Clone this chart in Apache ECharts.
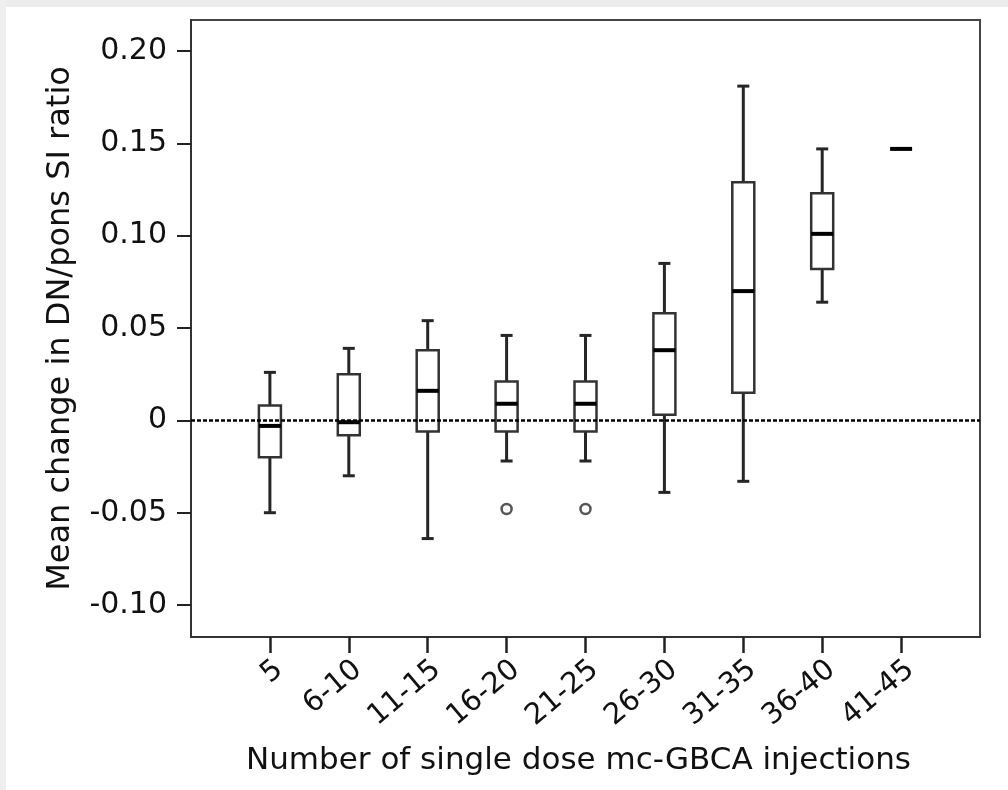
<!DOCTYPE html>
<html>
<head>
<meta charset="utf-8">
<script src="https://cdn.jsdelivr.net/npm/echarts@6/dist/echarts.min.js"></script>
<style>
  html, body { margin: 0; padding: 0; background: #fff; }
  #chart-container { width: 1008px; height: 790px; }
</style>
</head>
<body>
<div id="chart-container"></div>
<script>
// groups on the x axis
var categories = ['5', '6-10', '11-15', '16-20', '21-25', '26-30', '31-35', '36-40', '41-45'];

// box plot values
var lowWhisker  = [-0.050, -0.030, -0.064, -0.022, -0.022, -0.039, -0.033, 0.064, 0.147];
var q1          = [-0.020, -0.008, -0.006, -0.006, -0.006,  0.003,  0.015, 0.082, 0.147];
var median      = [-0.003, -0.001,  0.016,  0.009,  0.009,  0.038,  0.070, 0.101, 0.147];
var q3          = [ 0.008,  0.025,  0.038,  0.021,  0.021,  0.058,  0.129, 0.123, 0.147];
var highWhisker = [ 0.026,  0.039,  0.054,  0.046,  0.046,  0.085,  0.181, 0.147, 0.147];

// outliers: [group index, value]
var outliers = [[3, -0.048], [4, -0.048]];

var yTicks = [-0.10, -0.05, 0, 0.05, 0.10, 0.15, 0.20];
var xTicks = [1, 2, 3, 4, 5, 6, 7, 8, 9];

var dom = document.getElementById('chart-container');
var myChart = echarts.init(dom, null, { renderer: 'canvas' });

var boxData = categories.map(function (c, i) {
  return [i + 1, lowWhisker[i], q1[i], median[i], q3[i], highWhisker[i]];
});
var outlierData = outliers.map(function (o) {
  return [o[0] + 1, o[1]];
});

var FONT = 'DejaVu Sans';
var BOX_W = 22;
var CAP_W = 12;

function renderBox(params, api) {
  var x = api.value(0);
  var pLow = api.coord([x, api.value(1)]);
  var pQ1 = api.coord([x, api.value(2)]);
  var pMed = api.coord([x, api.value(3)]);
  var pQ3 = api.coord([x, api.value(4)]);
  var pHigh = api.coord([x, api.value(5)]);
  var cx = pMed[0];
  var children = [];
  var whisker = { stroke: '#262626', lineWidth: 3 };

  if (pQ1[1] - pQ3[1] > 1) {
    children.push({
      type: 'line', shape: { x1: cx, y1: pQ3[1], x2: cx, y2: pHigh[1] }, style: whisker
    });
    children.push({
      type: 'line', shape: { x1: cx, y1: pLow[1], x2: cx, y2: pQ1[1] }, style: whisker
    });
    children.push({
      type: 'line', shape: { x1: cx - CAP_W / 2, y1: pHigh[1], x2: cx + CAP_W / 2, y2: pHigh[1] }, style: whisker
    });
    children.push({
      type: 'line', shape: { x1: cx - CAP_W / 2, y1: pLow[1], x2: cx + CAP_W / 2, y2: pLow[1] }, style: whisker
    });
    children.push({
      type: 'rect',
      shape: { x: cx - BOX_W / 2, y: pQ3[1], width: BOX_W, height: pQ1[1] - pQ3[1] },
      style: { fill: '#fff', stroke: '#333', lineWidth: 2.5 }
    });
  }
  children.push({
    type: 'line',
    shape: { x1: cx - BOX_W / 2, y1: pMed[1], x2: cx + BOX_W / 2, y2: pMed[1] },
    style: { stroke: '#000', lineWidth: 4 }
  });
  return { type: 'group', children: children };
}

var option = {
  backgroundColor: '#fff',
  animation: false,
  graphic: [
    { type: 'rect', left: 0, top: 0, shape: { width: 1008, height: 7 }, style: { fill: '#ececec' }, z: -1 },
    { type: 'rect', left: 0, top: 0, shape: { width: 6, height: 790 }, style: { fill: '#efefef' }, z: -1 }
  ],
  grid: {
    left: 191,
    right: 28,
    top: 20,
    bottom: 153,
    show: true,
    borderColor: '#444',
    borderWidth: 2,
    backgroundColor: '#fff'
  },
  xAxis: {
    type: 'value',
    min: 0,
    max: 10,
    name: 'Number of single dose mc-GBCA injections',
    nameLocation: 'middle',
    nameGap: 108,
    nameTextStyle: { fontFamily: FONT, fontSize: 31, color: '#111', padding: [0, 14, 0, 0] },
    splitLine: { show: false },
    axisLine: { onZero: false, lineStyle: { color: '#333', width: 2 } },
    axisTick: { customValues: xTicks, length: 16, lineStyle: { color: '#222', width: 2.5 } },
    axisLabel: {
      customValues: xTicks,
      rotate: 40,
      margin: 18,
      verticalAlign: 'top',
      fontFamily: FONT,
      fontSize: 29,
      color: '#111',
      formatter: function (v) { return categories[Math.round(v) - 1] || ''; }
    }
  },
  yAxis: {
    type: 'value',
    min: -0.1173,
    max: 0.2168,
    name: 'Mean change in DN/pons SI ratio',
    nameLocation: 'middle',
    nameGap: 114,
    nameTextStyle: { fontFamily: FONT, fontSize: 32, color: '#111' },
    splitLine: { show: false },
    axisLine: { show: true, onZero: false, lineStyle: { color: '#333', width: 2 } },
    axisTick: { show: true, customValues: yTicks, length: 14, lineStyle: { color: '#222', width: 2 } },
    axisLabel: {
      customValues: yTicks,
      margin: 24,
      fontFamily: FONT,
      fontSize: 30,
      color: '#111',
      formatter: function (v) { return Math.abs(v) < 1e-9 ? '0' : v.toFixed(2); }
    }
  },
  series: [
    {
      type: 'custom',
      name: 'box',
      renderItem: renderBox,
      encode: { x: 0, y: [1, 2, 3, 4, 5] },
      data: boxData,
      z: 3
    },
    {
      type: 'scatter',
      name: 'outliers',
      symbol: 'circle',
      symbolSize: 10,
      itemStyle: { color: '#fff', borderColor: '#2a2a2a', borderWidth: 2.5 },
      data: outlierData,
      z: 4,
      markLine: {
        silent: true,
        symbol: 'none',
        label: { show: false },
        lineStyle: { color: '#000', width: 2.5, type: [4, 2], opacity: 1 },
        data: [{ yAxis: 0 }]
      }
    }
  ]
};

if (option && typeof option === 'object') {
  myChart.setOption(option);
}

window.addEventListener('resize', myChart.resize);
</script>
</body>
</html>
